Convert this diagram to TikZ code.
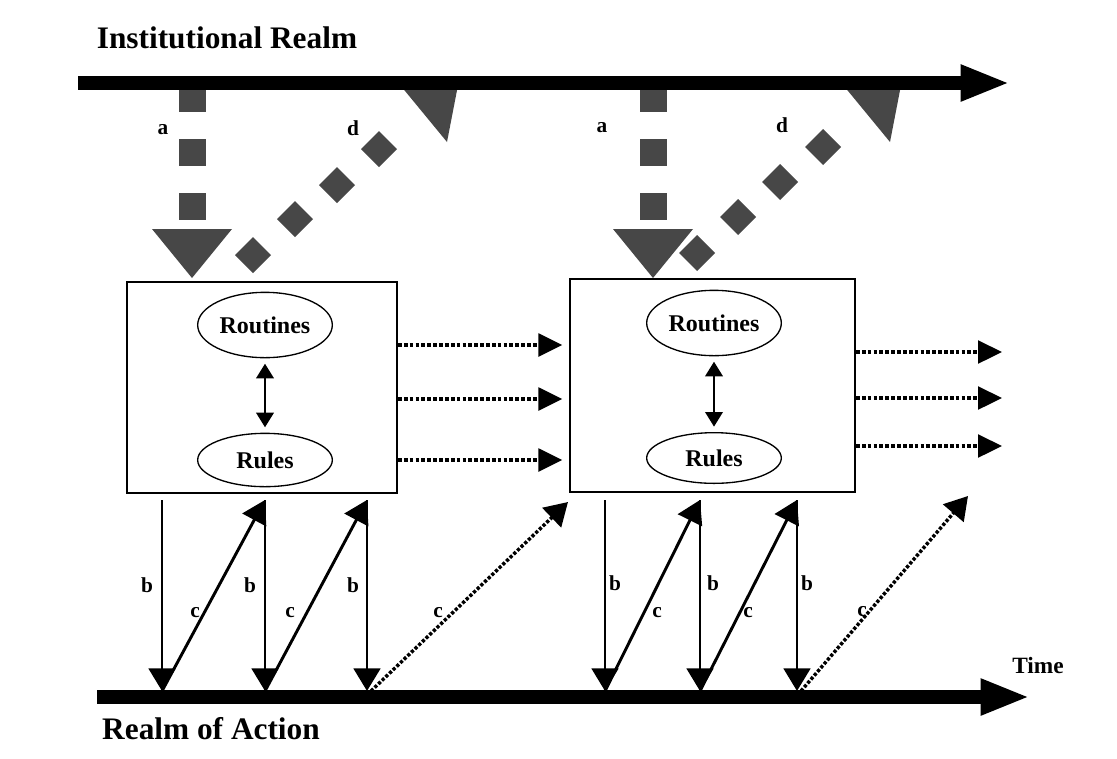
\documentclass[tikz,border=0pt]{standalone}
\usepackage{fontspec}
\setmainfont{Liberation Serif}
\usetikzlibrary{arrows.meta,shapes.geometric,fit}
\begin{document}
\begin{tikzpicture}[x=0.75pt,y=-0.75pt,
  bar/.style={line width=11pt,-{Triangle[length=37pt,width=25pt]}},
  box/.style={draw,line width=1.5pt,inner sep=0pt},
  ell/.style={draw,ellipse,line width=1pt,inner sep=0pt,minimum width=101pt,font=\fontsize{18}{20}\selectfont\bfseries},
  dbl/.style={line width=2pt,{Triangle[length=11pt,width=13pt]}-{Triangle[length=11pt,width=13pt]},shorten <=4pt,shorten >=4pt},
  hdot/.style={line width=2.7pt,dash pattern=on 2.8pt off 1.6pt,-{Triangle[length=18pt,width=17pt]}},
  sarr/.style={line width=2.2pt,-{Triangle[length=17pt,width=20pt]}},
  darr/.style={line width=2.6pt,dash pattern=on 2.4pt off 1.4pt,-{Triangle[length=17pt,width=20pt]}},
  lbl/.style={font=\fontsize{16}{18}\selectfont\bfseries,inner sep=0pt},
  ttl/.style={font=\fontsize{23.5}{26}\selectfont\bfseries,inner sep=0pt},
  shd/.style={fill=black!72}
]
\useasboundingbox (0,0) rectangle (1117,758);
\fill[white] (0,0) rectangle (1117,758);

% titles
\node[ttl] (inst) at (227,38) {Institutional Realm};
\node[ttl] (act) at (211,729) {Realm of Action};
\node[font=\fontsize{17.5}{20}\selectfont\bfseries,inner sep=0pt] (time) at (1038,665) {Time};

% "a" influences (squares + triangle)
\foreach \cx in {192,653}{
  \foreach \cy in {98,152,206}{
    \fill[shd] (\cx-13.5,\cy-13.5) rectangle ++(27,27);
  }
  \fill[shd] (\cx-40,229) -- (\cx+40,229) -- (\cx,278) -- cycle;
}

% "d" influences (diamonds + triangle)
\foreach \dx/\dy in {253/255,295/219,337/185,379/149,697/253,738/217,780/182,823/147}{
  \fill[shd] (\dx-18,\dy) -- (\dx,\dy-18) -- (\dx+18,\dy) -- (\dx,\dy+18) -- cycle;
}
\fill[shd] (396,80) -- (459,80) -- (447,142) -- cycle;
\fill[shd] (839,80) -- (902,80) -- (890,142) -- cycle;

% realms
\coordinate (tl) at (78,83);
\coordinate (tr) at (1010,83);
\draw[bar] (tl) -- (tr);
\coordinate (bl) at (97,697);
\coordinate (br) at (1030,697);
\draw[bar] (bl) -- (br);

% labels a, d
\node[lbl] (a1) at (163,130) {a};
\node[lbl] (a2) at (602,128) {a};
\node[lbl] (d1) at (353,128) {d};
\node[lbl] (d2) at (782,125) {d};

% boxes
\node[box,fit={(127,282) (397,493)}] (box1) {};
\node[box,fit={(570,279) (855,492)}] (box2) {};

\node[ell,minimum height=49pt] (rout1) at (265,325) {Routines};
\node[ell,minimum height=40pt] (rule1) at (265,460) {\raisebox{-5pt}{Rules}};
\node[ell,minimum height=49pt] (rout2) at (714,323) {Routines};
\node[ell,minimum height=38pt] (rule2) at (714,458) {\raisebox{-5pt}{Rules}};
\draw[dbl] (rout1) -- (rule1);
\draw[dbl] (rout2) -- (rule2);

% horizontal dotted arrows
\foreach \hy in {345,399,460}{
  \draw[hdot] (box1.east |- 0,\hy) -- ([xshift=-5pt]box2.west |- 0,\hy);
}
\coordinate (e1) at (1002,352);
\coordinate (e2) at (1002,398);
\coordinate (e3) at (1002,446);
\draw[hdot] (box2.east |- e1) -- (e1);
\draw[hdot] (box2.east |- e2) -- (e2);
\draw[hdot] (box2.east |- e3) -- (e3);

% action / structuration arrows, first period
\coordinate (s1) at (162,500); \coordinate (p1) at (162,691);
\coordinate (s2) at (265,500); \coordinate (p2) at (265,691);
\coordinate (s3) at (367,500); \coordinate (p3) at (367,691);
\coordinate (f1) at (568,502);
\draw[sarr] (s1) -- (p1);
\draw[sarr] (s2) -- (p2);
\draw[sarr] (s3) -- (p3);
\draw[sarr] (p1) -- (s2);
\draw[sarr] (p2) -- (s3);
\draw[darr] ([xshift=3pt]p3) -- (f1);
\node[lbl] (b11) at (147,585) {b};
\node[lbl] (b12) at (250,585) {b};
\node[lbl] (b13) at (353,585) {b};
\node[lbl] (c11) at (195,613) {c};
\node[lbl] (c12) at (290,613) {c};
\node[lbl] (c13) at (438,613) {c};

% second period
\coordinate (u1) at (605,500); \coordinate (q1) at (605,691);
\coordinate (u2) at (700,500); \coordinate (q2) at (700,691);
\coordinate (u3) at (797,500); \coordinate (q3) at (797,691);
\coordinate (f2) at (968,496);
\draw[sarr] (u1) -- (q1);
\draw[sarr] (u2) -- (q2);
\draw[sarr] (u3) -- (q3);
\draw[sarr] (q1) -- (u2);
\draw[sarr] (q2) -- (u3);
\draw[darr] ([xshift=3pt]q3) -- (f2);
\node[lbl] (b21) at (615,583) {b};
\node[lbl] (b22) at (713,583) {b};
\node[lbl] (b23) at (807,583) {b};
\node[lbl] (c21) at (657,613) {c};
\node[lbl] (c22) at (748,613) {c};
\node[lbl] (c23) at (862,612) {c};
\end{tikzpicture}
\end{document}
